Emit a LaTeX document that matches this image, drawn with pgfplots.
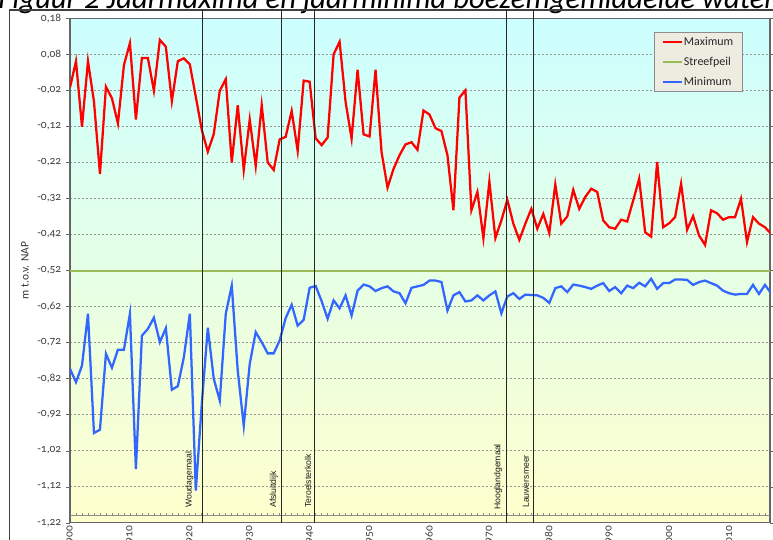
\documentclass[border=0pt]{standalone}
\usepackage{fontspec}
\setmainfont{Carlito}[Numbers=OldStyle]
\newfontfamily\arialfont{Liberation Sans}
\usepackage{pgfplots}
\usepackage{pgfplotstable}
\pgfplotsset{compat=1.18}
\definecolor{maxred}{RGB}{255,0,0}
\definecolor{minblue}{RGB}{51,102,255}
\definecolor{streef}{RGB}{155,187,89}
\definecolor{topcyan}{RGB}{204,255,255}
\definecolor{botyellow}{RGB}{255,255,204}
\definecolor{legfill}{RGB}{238,236,225}
\definecolor{gridgray}{RGB}{150,150,150}

\pgfplotstableread{
year max min
1900 -0.012 -0.793
1901 0.061 -0.830
1902 -0.121 -0.784
1903 0.061 -0.640
1904 -0.051 -0.971
1905 -0.252 -0.962
1906 -0.010 -0.751
1907 -0.042 -0.790
1908 -0.112 -0.740
1909 0.050 -0.740
1910 0.111 -0.640
1911 -0.101 -1.071
1912 0.070 -0.701
1913 0.070 -0.682
1914 -0.021 -0.651
1915 0.120 -0.719
1916 0.101 -0.680
1917 -0.050 -0.851
1918 0.061 -0.841
1919 0.069 -0.761
1920 0.052 -0.640
1921 -0.038 -1.131
1922 -0.130 -0.890
1923 -0.190 -0.679
1924 -0.141 -0.821
1925 -0.021 -0.881
1926 0.011 -0.640
1927 -0.220 -0.562
1928 -0.061 -0.798
1929 -0.241 -0.951
1930 -0.101 -0.779
1931 -0.230 -0.691
1932 -0.061 -0.719
1933 -0.220 -0.750
1934 -0.241 -0.750
1935 -0.156 -0.714
1936 -0.149 -0.652
1937 -0.077 -0.615
1938 -0.188 -0.673
1939 0.007 -0.657
1940 0.004 -0.568
1941 -0.153 -0.563
1942 -0.172 -0.605
1943 -0.151 -0.654
1944 0.080 -0.603
1945 0.115 -0.625
1946 -0.052 -0.589
1947 -0.154 -0.645
1948 0.037 -0.576
1949 -0.142 -0.559
1950 -0.148 -0.564
1951 0.037 -0.577
1952 -0.191 -0.569
1953 -0.290 -0.564
1954 -0.238 -0.578
1955 -0.200 -0.583
1956 -0.170 -0.611
1957 -0.164 -0.568
1958 -0.185 -0.564
1959 -0.076 -0.560
1960 -0.087 -0.548
1961 -0.125 -0.548
1962 -0.133 -0.552
1963 -0.200 -0.631
1964 -0.353 -0.589
1965 -0.040 -0.580
1966 -0.020 -0.606
1967 -0.353 -0.603
1968 -0.302 -0.589
1969 -0.430 -0.603
1970 -0.273 -0.589
1971 -0.430 -0.578
1972 -0.381 -0.639
1973 -0.324 -0.592
1974 -0.390 -0.583
1975 -0.435 -0.599
1976 -0.390 -0.587
1977 -0.349 -0.588
1978 -0.404 -0.589
1979 -0.363 -0.596
1980 -0.416 -0.610
1981 -0.281 -0.569
1982 -0.390 -0.564
1983 -0.370 -0.580
1984 -0.296 -0.559
1985 -0.349 -0.562
1986 -0.316 -0.566
1987 -0.293 -0.571
1988 -0.302 -0.562
1989 -0.381 -0.555
1990 -0.400 -0.577
1991 -0.404 -0.566
1992 -0.379 -0.583
1993 -0.384 -0.562
1994 -0.326 -0.569
1995 -0.265 -0.554
1996 -0.414 -0.564
1997 -0.426 -0.543
1998 -0.219 -0.571
1999 -0.400 -0.555
2000 -0.389 -0.555
2001 -0.372 -0.545
2002 -0.279 -0.545
2003 -0.407 -0.546
2004 -0.369 -0.560
2005 -0.423 -0.552
2006 -0.449 -0.548
2007 -0.353 -0.555
2008 -0.361 -0.562
2009 -0.379 -0.576
2010 -0.372 -0.583
2011 -0.372 -0.587
2012 -0.321 -0.585
2013 -0.441 -0.585
2014 -0.372 -0.560
2015 -0.390 -0.585
2016 -0.400 -0.560
2017 -0.418 -0.583
}\datatable

\pgfplotstableread{
year streef
1900 -0.52
2017 -0.52
}\streeftable

\begin{document}
\begin{tikzpicture}
\useasboundingbox (0pt,0pt) rectangle (579.75pt,404.25pt);
\clip (0pt,0pt) rectangle (579.75pt,404.25pt);
\begin{scope}[x=0.75pt,y=0.75pt]
% title (cropped at the top like the reference)
\node[anchor=base west, inner sep=0pt, font=\fontsize{23}{26}\selectfont\itshape] at (-2,530) {Figuur 2 Jaarmaxima en jaarminima boezemgemiddelde waterstand};
% outer chart frame
\draw[black!75, line width=0.8pt] (9.5,-20) -- (9.5,529) -- (800,529);
\end{scope}
\begin{axis}[
  at={(52.5pt,12.225pt)}, anchor=south west, scale only axis,
  width=525pt, height=378.3pt,
  xmin=1900, xmax=2016.84, ymin=-1.22, ymax=0.18,
  axis background/.style={shade, top color=topcyan, bottom color=botyellow},
  axis line style={black!60, line width=0.9pt},
  ytick={0.18,0.08,-0.02,-0.12,-0.22,-0.32,-0.42,-0.52,-0.62,-0.72,-0.82,-0.92,-1.02,-1.12,-1.22},
  yticklabels={{0,18},{0,08},{-0,02},{-0,12},{-0,22},{-0,32},{-0,42},{-0,52},{-0,62},{-0,72},{-0,82},{-0,92},{-1,02},{-1,12},{-1,22}},
  xtick={1900,1910,1920,1930,1940,1950,1960,1970,1980,1990,2000,2010},
  xticklabels={1900,1910,1920,1930,1940,1950,1960,1970,1980,1990,2000,2010},
  xticklabel style={rotate=90, anchor=east, inner sep=0pt, font=\fontsize{8.6}{10}\selectfont, text=black!75},
  xticklabel shift={-1pt},
  yticklabel style={font=\fontsize{8.6}{10}\selectfont, text=black!75},
  xtick style={draw=none},
  ytick style={black!60},
  tick align=outside, major tick length=3pt,
  ymajorgrids, grid style={gridgray, line width=0.5pt, dash pattern=on 1.5pt off 1.5pt},
  legend cell align=left,
  legend style={at={(rel axis cs:0.834,0.9734)}, anchor=north west,
    fill=legfill, draw=black!45, line width=0.6pt,
    font=\fontsize{9}{10}\selectfont, text=black!85,
    inner xsep=6pt, inner ysep=1.7pt, row sep=4pt,
    nodes={inner sep=1pt, text height=7pt, text depth=2pt}},
  legend image code/.code={\draw[#1, line width=1.3pt] (0pt,0pt) -- (14pt,0pt);},
]
\addplot[streef, line width=1.5pt, forget plot] table[x=year, y=streef] {\streeftable};
\pgfplotsinvokeforeach{1901,...,2016}{
  \draw[black!45, line width=0.5pt] (axis cs:#1,-1.20) -- ++(0pt,2.2pt);
}
\draw[black!45, line width=0.8pt] (axis cs:1900,-1.20) -- (axis cs:2017,-1.20);
\addplot[maxred, line width=1.7pt] table[x=year, y=max] {\datatable};
\addlegendentry{Maximum}
\addlegendimage{streef, line width=1.4pt}
\addlegendentry{Streefpeil}
\addplot[minblue, line width=1.7pt] table[x=year, y=min] {\datatable};
\addlegendentry{Minimum}
\end{axis}
\begin{scope}[x=0.75pt,y=0.75pt]
% event lines
\foreach \xx in {202.7,281.7,314.3,506.7,533.3}{
  \draw[black!85, line width=0.8pt] (\xx,529) -- (\xx,16.3);
}
% event labels
\begin{scope}[every node/.style={rotate=90, anchor=west, inner sep=0pt, font=\arialfont\fontsize{6.5}{7}\selectfont, text=black!90}]
\node at (189.3,31) {Woudagemaal};
\node at (274,31) {Afsluitdijk};
\node at (308,31) {Teroelsterkolk};
\node at (498,29) {Hooglandgemaal};
\node at (526,31) {Lauwersmeer};
\end{scope}
% y label
\node[rotate=90, font=\fontsize{8.6}{10}\selectfont, text=black!80] at (25,268.3) {m t.o.v. NAP};
\end{scope}
\end{tikzpicture}
\end{document}
